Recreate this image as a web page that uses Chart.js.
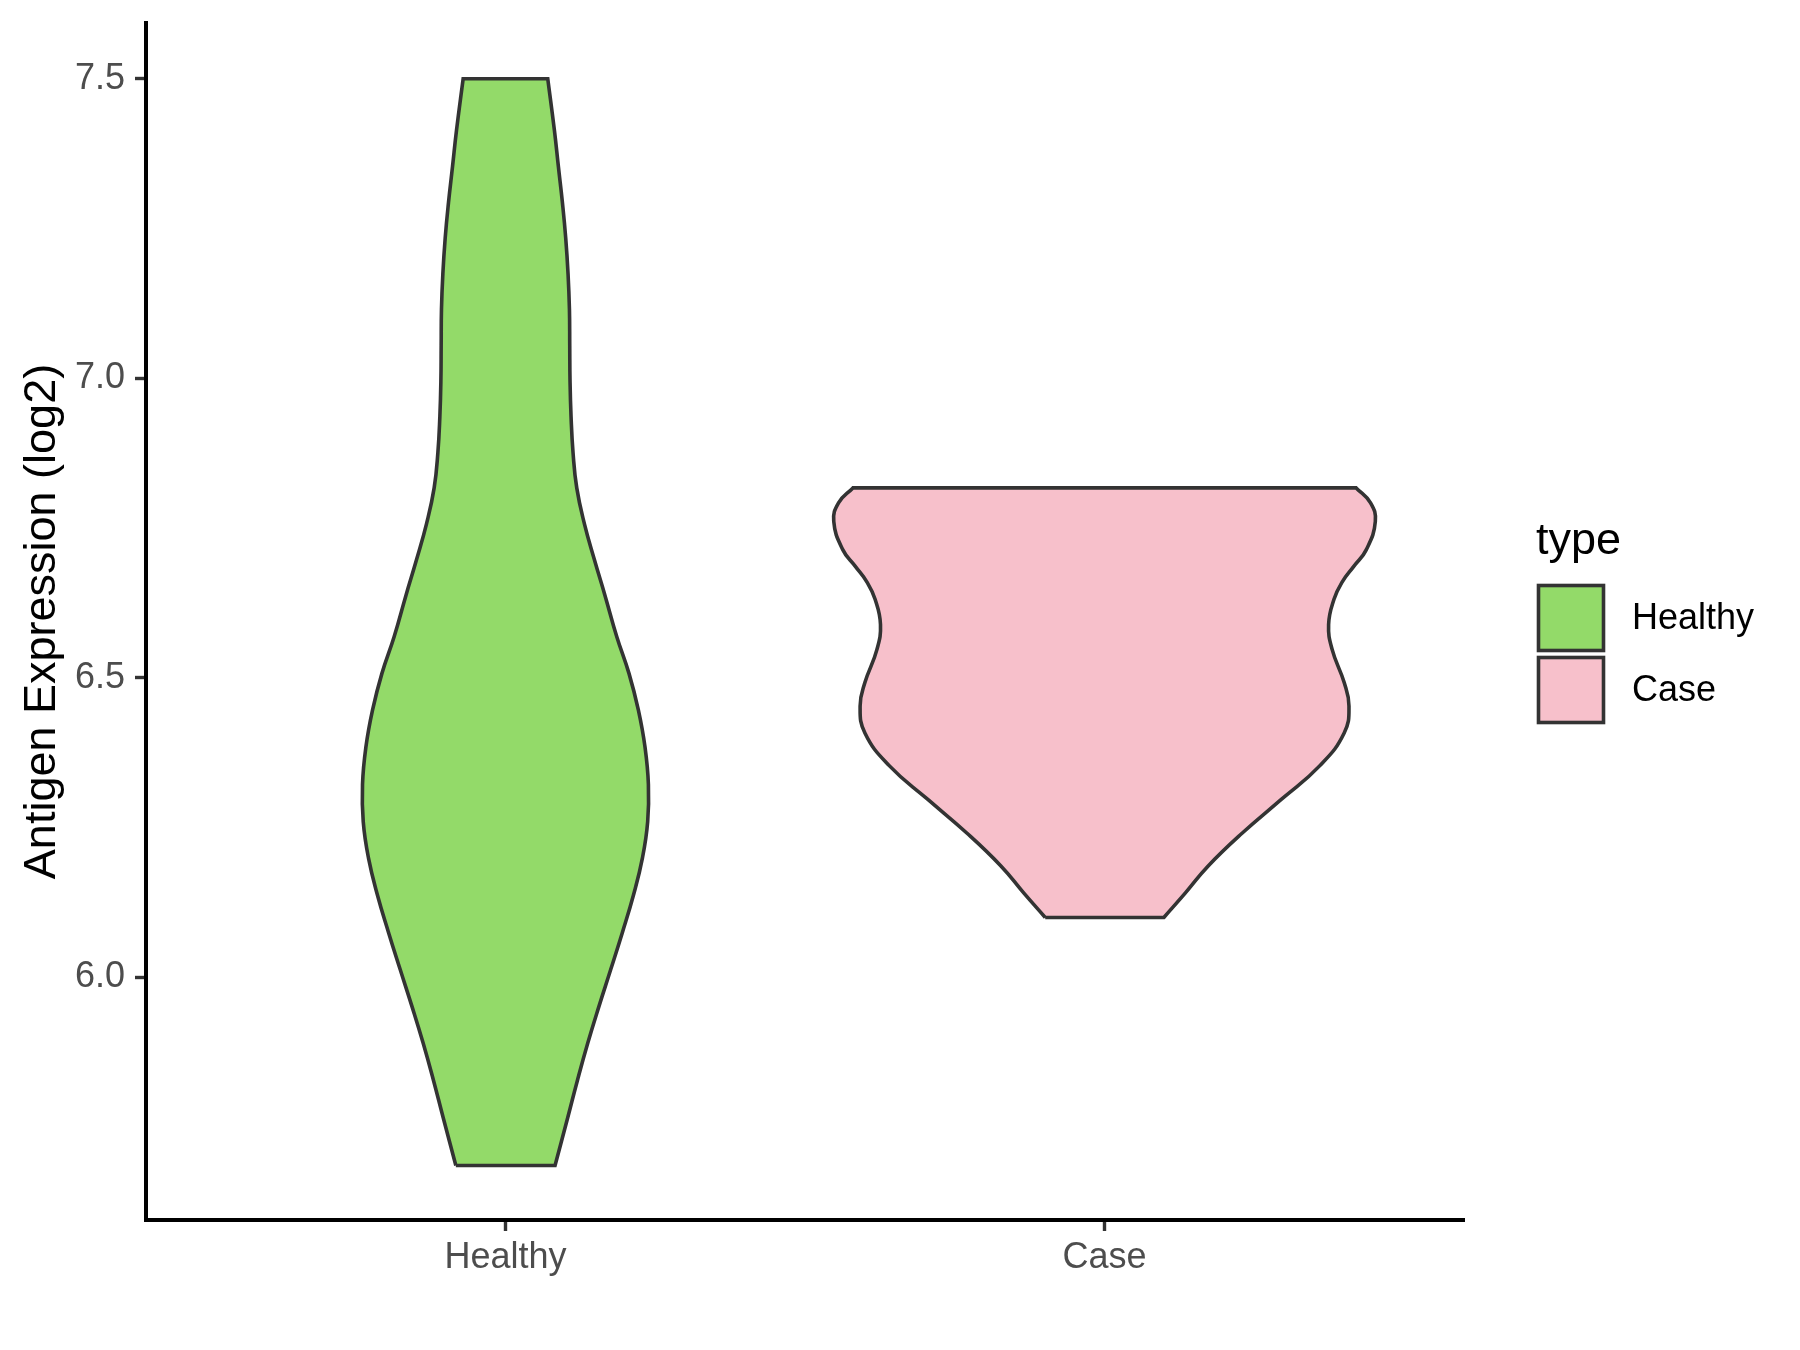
<!DOCTYPE html>
<html>
<head>
<meta charset="utf-8">
<title>Antigen Expression violin</title>
<script src="https://cdn.jsdelivr.net/npm/chart.js@4.4.0/dist/chart.umd.min.js"></script>
<style>
    html, body { margin: 0; padding: 0; background: #ffffff; }
    #wrap { width: 1800px; height: 1350px; position: relative; }
</style>
</head>
<body>
<div id="wrap"><canvas id="violinChart"></canvas></div>
<script>
const groups = ['Healthy', 'Case'];
const groupColors = ['#93DA69', '#F7C0CB'];
const outlineColor = '#333333';
const legendTitle = 'type';
const yTitle = 'Antigen Expression (log2)';

const yTicks = [6.0, 6.5, 7.0, 7.5];
const yMin = 5.595;
const yMax = 7.593;

// violin outlines: y value (top to bottom) and half width in x units
const healthyLevels = [7.5, 7.413, 7.353, 7.293, 7.234, 7.174, 7.115, 7.055, 6.995, 6.936, 6.876, 6.817, 6.757, 6.697, 6.638, 6.569, 6.507, 6.446, 6.384, 6.322, 6.26, 6.199, 6.137, 6.075, 6.013, 5.952, 5.89, 5.828, 5.766, 5.686];
const healthyHalfWidth = [0.0706, 0.0818, 0.0884, 0.0951, 0.1006, 0.1045, 0.1068, 0.1073, 0.1078, 0.1095, 0.1128, 0.119, 0.1318, 0.1485, 0.166, 0.1857, 0.2063, 0.2219, 0.233, 0.2386, 0.2374, 0.2286, 0.2136, 0.1952, 0.1757, 0.1562, 0.1373, 0.1201, 0.104, 0.0828];

const caseLevels = [6.817, 6.792, 6.761, 6.714, 6.686, 6.659, 6.631, 6.589, 6.547, 6.492, 6.453, 6.408, 6.353, 6.297, 6.241, 6.186, 6.141, 6.1];
const caseHalfWidth = [0.420, 0.444, 0.452, 0.437, 0.416, 0.396, 0.383, 0.374, 0.380, 0.400, 0.408, 0.400, 0.359, 0.295, 0.230, 0.173, 0.135, 0.099];

const FONT = '"Liberation Sans", Arial, sans-serif';
Chart.defaults.font.family = FONT;

// walk round the violin: up the left side, across the top, down the right side
// corners are pushed twice so the spline keeps them sharp
function buildOutline(center, levels, halfWidths) {
    const n = levels.length;
    const pts = [];
    const bottomLeft = { x: center - halfWidths[n - 1], y: levels[n - 1] };
    pts.push(bottomLeft);
    for (let i = n - 1; i >= 0; i--) {
        pts.push({ x: center - halfWidths[i], y: levels[i] });
    }
    pts.push({ x: center - halfWidths[0], y: levels[0] });
    pts.push({ x: center + halfWidths[0], y: levels[0] });
    for (let i = 0; i < n; i++) {
        pts.push({ x: center + halfWidths[i], y: levels[i] });
    }
    pts.push({ x: center + halfWidths[n - 1], y: levels[n - 1] });
    pts.push({ x: bottomLeft.x, y: bottomLeft.y });
    return pts;
}

const outlines = [
    buildOutline(1, healthyLevels, healthyHalfWidth),
    buildOutline(2, caseLevels, caseHalfWidth)
];

// ggplot style legend on the right
const typeLegend = {
    id: 'typeLegend',
    afterDraw(chart) {
        const ctx = chart.ctx;
        const left = chart.chartArea.right + 72;
        ctx.save();
        ctx.fillStyle = '#000000';
        ctx.font = '45px ' + FONT;
        ctx.textBaseline = 'alphabetic';
        ctx.textAlign = 'left';
        ctx.fillText(legendTitle, left, 554);

        chart.data.datasets.forEach((ds, i) => {
            const top = 584 + i * 72;
            ctx.fillStyle = ds.backgroundColor;
            ctx.fillRect(left + 2.5, top + 1.5, 65, 65);
            ctx.lineWidth = 3.6;
            ctx.strokeStyle = outlineColor;
            ctx.strokeRect(left + 2.5, top + 1.5, 65, 65);

            ctx.fillStyle = '#000000';
            ctx.font = '36px ' + FONT;
            ctx.textBaseline = 'middle';
            ctx.fillText(ds.label, left + 96, top + 35);
        });
        ctx.restore();
    }
};

// keep the plot panel where ggplot put it, label overhang or not
function noOverhang(scale) {
    scale.paddingTop = 0;
    scale.paddingBottom = 0;
    scale.paddingLeft = 0;
    scale.paddingRight = 0;
}

const ctx = document.getElementById('violinChart').getContext('2d');
new Chart(ctx, {
    type: 'line',
    data: {
        datasets: groups.map((g, i) => ({
            label: g,
            data: outlines[i],
            borderColor: outlineColor,
            borderWidth: 3.6,
            backgroundColor: groupColors[i],
            fill: 'shape',
            tension: 0.45,
            pointRadius: 0,
            pointHoverRadius: 0
        }))
    },
    options: {
        responsive: true,
        maintainAspectRatio: false,
        animation: false,
        events: [],
        layout: {
            padding: { top: 23, right: 336, bottom: 0, left: 0 }
        },
        plugins: {
            legend: { display: false },
            tooltip: { enabled: false }
        },
        scales: {
            x: {
                type: 'linear',
                min: 0.4,
                max: 2.6,
                afterBuildTicks: scale => {
                    scale.ticks = groups.map((g, i) => ({ value: i + 1 }));
                },
                afterFit: scale => {
                    scale.height = 130;
                    noOverhang(scale);
                },
                ticks: {
                    callback: value => groups[value - 1],
                    color: '#4D4D4D',
                    font: { size: 36 },
                    padding: 5,
                    maxRotation: 0,
                    autoSkip: false
                },
                grid: {
                    display: true,
                    drawOnChartArea: false,
                    drawTicks: true,
                    tickLength: 11,
                    tickWidth: 3.4,
                    tickColor: '#333333'
                },
                border: { display: true, color: '#000000', width: 4 }
            },
            y: {
                min: yMin,
                max: yMax,
                afterBuildTicks: scale => {
                    scale.ticks = yTicks.map(v => ({ value: v }));
                },
                afterFit: scale => {
                    scale.width = 146;
                    noOverhang(scale);
                },
                ticks: {
                    callback: value => value.toFixed(1),
                    color: '#4D4D4D',
                    font: { size: 36 },
                    padding: 10
                },
                grid: {
                    display: true,
                    drawOnChartArea: false,
                    drawTicks: true,
                    tickLength: 11,
                    tickWidth: 3.4,
                    tickColor: '#333333'
                },
                border: { display: true, color: '#000000', width: 4 },
                title: {
                    display: true,
                    text: yTitle,
                    color: '#000000',
                    font: { size: 45 },
                    padding: { top: 16, bottom: 0 }
                }
            }
        }
    },
    plugins: [typeLegend]
});
</script>
</body>
</html>
